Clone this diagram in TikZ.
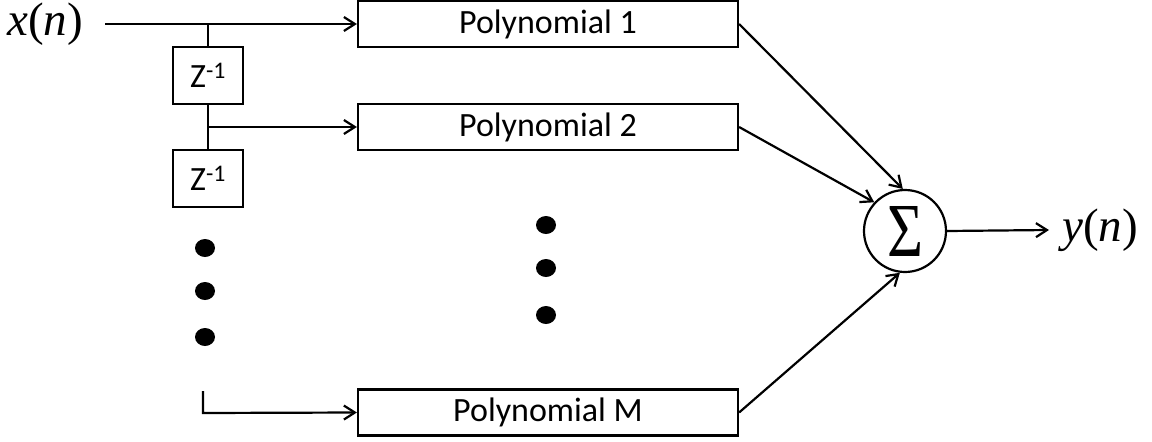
\documentclass[tikz,border=0pt]{standalone}
\usepackage{fontspec}
\usepackage{graphicx}
\setmainfont{Carlito}
\newfontfamily\serifx{Liberation Serif}
\usetikzlibrary{arrows.meta,shapes.geometric}
\begin{document}
\begin{tikzpicture}[x=1pt,y=-1pt, line width=2.2pt,
  arr/.style={-{Straight Barb[length=11pt,width=14pt]}},
  poly/.style={draw, minimum width=380pt, minimum height=46pt, inner sep=0pt, font=\fontsize{34}{40}\selectfont},
  zbox/.style={draw, minimum width=70pt, minimum height=57pt, inner sep=0pt, font=\fontsize{34}{40}\selectfont},
  dotmark/.style={fill, ellipse, minimum width=20pt, minimum height=18pt, inner sep=0pt},
  sig/.style={draw, circle, minimum size=82pt, inner sep=0pt},
  lab/.style={inner sep=0pt, font=\serifx\fontsize{47}{54}\selectfont}
]
\useasboundingbox (0,0) rectangle (1152,442);
% labels
\node[lab] (xn) at (45,24) {\itshape x\upshape(\itshape n\upshape)};
\node[lab] (yn) at (1100,230) {\itshape y\upshape(\itshape n\upshape)};
% boxes
\node[poly] (p1) at (548,24) {Polynomial 1};
\node[poly] (p2) at (548,127) {Polynomial 2};
\node[poly] (pm) at (548,412.5) {Polynomial M};
\node[zbox] (z1) at (208,75.5) {Z\textsuperscript{-1}};
\node[zbox] (z2) at (208,178.5) {Z\textsuperscript{-1}};
\node[sig] (s) at (905,231) {\resizebox{36pt}{50pt}{\serifx Σ}};
% dots
\node[dotmark] (d1) at (205,248) {};
\node[dotmark] (d2) at (205,291) {};
\node[dotmark] (d3) at (205,337) {};
\node[dotmark] (e1) at (546,225) {};
\node[dotmark] (e2) at (546,268) {};
\node[dotmark] (e3) at (546,315) {};
% coordinates
\coordinate (in) at (105,24);
\coordinate (t1) at (208,24);
\coordinate (t2) at (208,127);
\coordinate (ms) at (203,391);
\coordinate (mc) at (203,413);
\coordinate (out) at (1049,230);
% connectors
\draw[arr] (in) -- (p1.west);
\draw (t1) -- (z1.north);
\draw (z1.south) -- (z2.north);
\draw[arr] (t2) -- (p2.west);
\draw[arr] (ms) -- (mc) -- (pm.west);
\draw[arr] (p1.east) -- (s.93);
\draw[arr] (p2.east) -- (s.137);
\draw[arr] (pm.east) -- (s.263);
\draw[arr] (s.east) -- (out);
\end{tikzpicture}
\end{document}
